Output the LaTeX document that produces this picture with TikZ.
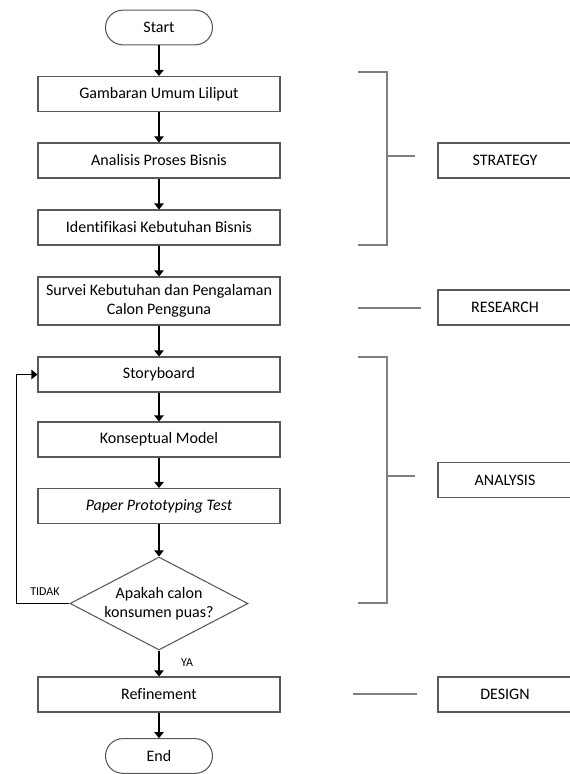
\documentclass[tikz,border=0pt]{standalone}
\usepackage{fontspec}
\setmainfont{Carlito}[Ligatures=NoCommon]
\usepackage{tikz}
\usetikzlibrary{positioning, shapes.geometric, arrows.meta}
\definecolor{boxline}{HTML}{595959}
\definecolor{brkline}{HTML}{7F7F7F}

\begin{document}
\begin{tikzpicture}[x=0.75pt, y=-0.75pt, font=\fontsize{12}{14}\selectfont]
  \tikzstyle{procbox}=[draw=boxline, line width=0.8pt, minimum width=181.5pt, minimum height=26.25pt, align=center, inner sep=2pt]
  \tikzstyle{termbox}=[draw=boxline, line width=0.8pt, rounded corners=13pt, minimum width=80.25pt, minimum height=26pt]
  \tikzstyle{decbox}=[diamond, draw=boxline, line width=0.8pt, aspect=1.91, inner sep=0pt, minimum width=133.5pt, minimum height=69.75pt, align=center]
  \tikzstyle{phasebox}=[draw=boxline, line width=0.8pt, minimum width=100.5pt, minimum height=26.25pt]
  \tikzstyle{flow}=[line width=0.8pt, -{Triangle[width=7pt, length=4.5pt]}]
  \tikzstyle{brk}=[draw=brkline, line width=0.8pt]
  \tikzstyle{tag}=[font=\fontsize{9}{10}\selectfont, inner sep=1pt]

  \useasboundingbox (0,0) rectangle (569,774);

  % flowchart
  \node (start) at (159, 27.5) [termbox] {Start};
  \node (gamb) at (159, 94) [procbox] {Gambaran Umum Liliput};
  \node (anal) at (159, 160.5) [procbox] {Analisis Proses Bisnis};
  \node (iden) at (159, 227.5) [procbox] {Identifikasi Kebutuhan Bisnis};
  \node (surv) at (159, 301) [procbox, minimum height=36pt] {Survei Kebutuhan dan Pengalaman\\Calon Pengguna};
  \node (story) at (159, 374.5) [procbox] {Storyboard};
  \node (kons) at (159, 439.5) [procbox] {Konseptual Model};
  \node (paper) at (159, 506) [procbox] {\itshape Paper Prototyping Test};
  \node (puas) at (159, 603.5) [decbox] {Apakah calon\\konsumen puas?};
  \node (refine) at (159, 694.5) [procbox] {Refinement};
  \node (end) at (159, 756) [termbox] {End};

  \draw[flow] (start) -- (gamb);
  \draw[flow] (gamb) -- (anal);
  \draw[flow] (anal) -- (iden);
  \draw[flow] (iden) -- (surv);
  \draw[flow] (surv) -- (story);
  \draw[flow] (story) -- (kons);
  \draw[flow] (kons) -- (paper);
  \draw[flow] (paper) -- (puas);
  \draw[flow] (puas) -- (refine);
  \draw[flow] (refine) -- (end);
  \draw[flow] (puas.west) -- ++(-53, 0) |- (story.west);

  \node (tidak) at (45, 592) [tag] {TIDAK};
  \node (ya) at (187, 663) [tag] {YA};

  % phases
  \node (strat) at (505, 160.5) [phasebox] {STRATEGY};
  \node (resch) at (505, 307.5) [phasebox] {RESEARCH};
  \node (anls) at (505, 480) [phasebox] {ANALYSIS};
  \node (dsgn) at (505, 694.5) [phasebox] {DESIGN};

  % brackets
  \draw[brk] (358, 72) -| (387, 245) -- (358, 245);
  \draw[brk] (387, 156) -- (415, 156);
  \draw[brk] (358, 308) -- (421, 308);
  \draw[brk] (358, 357) -| (387, 603) -- (358, 603);
  \draw[brk] (387, 476) -- (415, 476);
  \draw[brk] (353, 694) -- (417, 694);
\end{tikzpicture}
\end{document}
